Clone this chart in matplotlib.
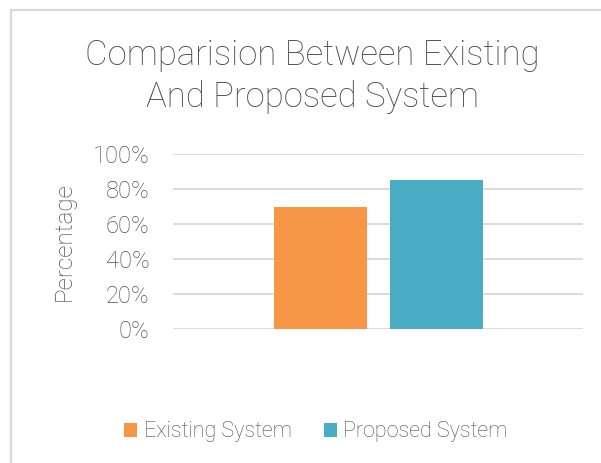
import matplotlib
matplotlib.use("Agg")
import matplotlib.pyplot as plt
from matplotlib.lines import Line2D
from matplotlib.patches import Patch
from matplotlib.ticker import PercentFormatter

series = ["Existing System", "Proposed System"]
values = [70, 85]
colors = ["#F79646", "#4BACC6"]
yticks = [0, 20, 40, 60, 80, 100]

plt.rcParams['font.family'] = ['Roboto', 'DejaVu Sans']
plt.rcParams['font.weight'] = 'light'
plt.rcParams['axes.labelweight'] = 'light'
txt = "#4F4F4F"

W, H = 601, 463
fig = plt.figure(figsize=(W/100, H/100), dpi=100)
fig.patch.set_facecolor("white")

# chart border (top + left visible)
fig.add_artist(Line2D([11/W, 11/W], [0, 1 - 10/H], color="#D9D9D9", lw=1.6, transform=fig.transFigure))
fig.add_artist(Line2D([11/W, 1], [1 - 10/H, 1 - 10/H], color="#D9D9D9", lw=1.6, transform=fig.transFigure))

L, R, T, B = 173, 583, 154, 329
ax = fig.add_axes([L/W, (H-B)/H, (R-L)/W, (B-T)/H])
n = len(series)
width = 93/(R-L)
gap = 23/(R-L)
xs = [0.5 + (i - (n-1)/2) * (width + gap) for i in range(n)]
for x, v, c, s in zip(xs, values, colors, series):
    ax.bar(x, v, width=width, color=c, label=s, zorder=3)
ax.set_xlim(0, 1)
ax.set_ylim(0, 100)
ax.set_yticks(yticks)
ax.yaxis.set_major_formatter(PercentFormatter(decimals=0))
ax.grid(axis="y", color="#D9D9D9", lw=1.3, zorder=0)
ax.set_xticks([])
for sp in ax.spines.values():
    sp.set_visible(False)
ax.tick_params(axis="y", length=0, labelsize=17, labelcolor=txt, pad=17)
ax.set_ylabel("Percentage", fontsize=17.5, color=txt, fontweight="light", labelpad=12)

fig.text(312/W, 1 - 76/H, "Comparision Between Existing\nAnd Proposed System",
         ha="center", va="center", fontsize=25, color=txt,
         linespacing=1.3)

handles = [Patch(facecolor=c, label=s) for c, s in zip(colors, series)]
leg = fig.legend(handles=handles, loc="center", bbox_to_anchor=(316/W, 1 - 432/H),
                 ncol=2, frameon=False, fontsize=15.5, handlelength=0.6, handleheight=0.6,
                 handletextpad=0.3, columnspacing=1.5, labelcolor=txt)

fig.savefig("out.png", dpi=100, facecolor="white")
